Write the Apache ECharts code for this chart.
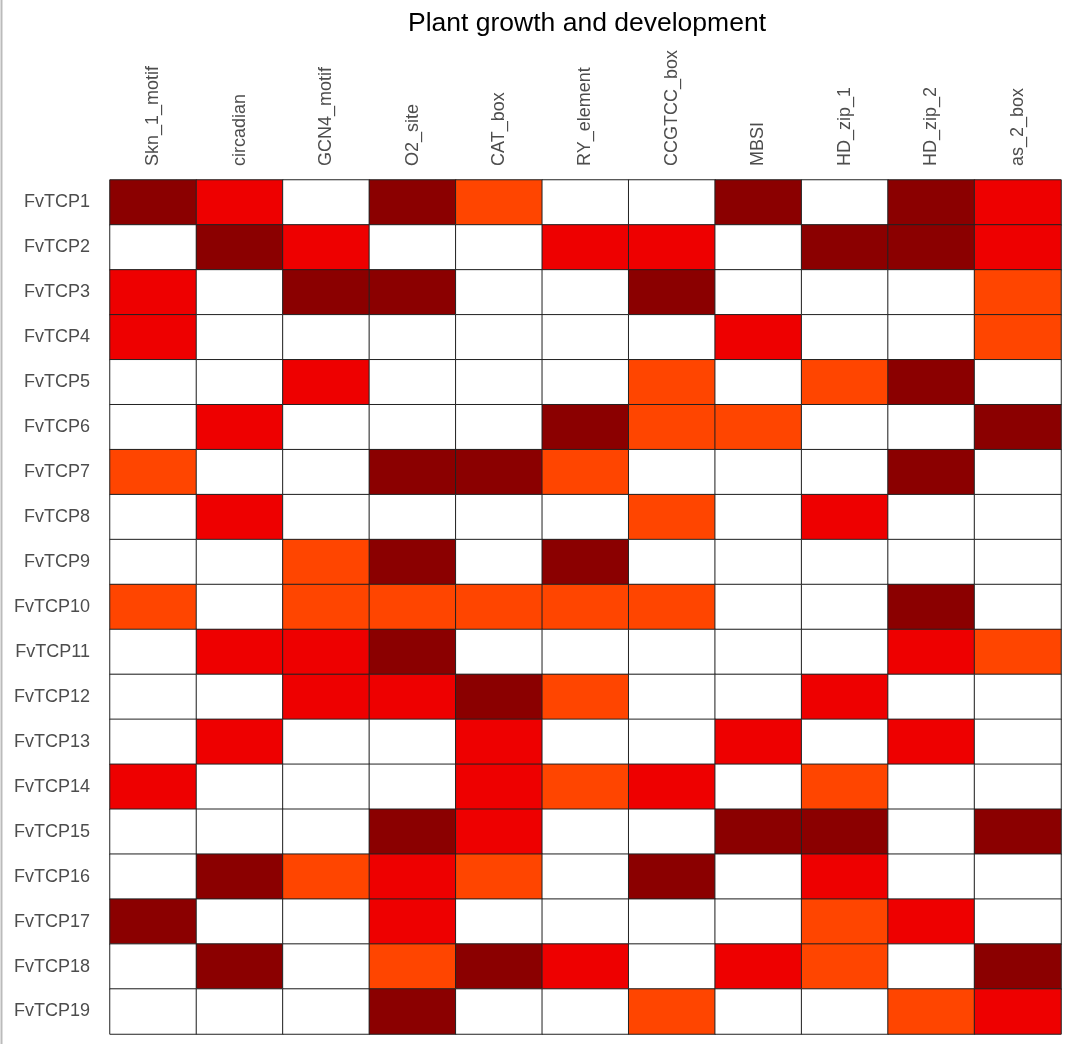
<!DOCTYPE html>
<html><head><meta charset="utf-8">
<script src="https://cdn.jsdelivr.net/npm/echarts@6/dist/echarts.min.js"></script>
<style>html,body{margin:0;padding:0;background:#fff}#c{width:1080px;height:1044px}</style>
</head><body><div id="c"></div>
<script>
const columns = ['Skn_1_motif','circadian','GCN4_motif','O2_site','CAT_box','RY_element','CCGTCC_box','MBSI','HD_zip_1','HD_zip_2','as_2_box'];
const genes = ['FvTCP1','FvTCP2','FvTCP3','FvTCP4','FvTCP5','FvTCP6','FvTCP7','FvTCP8','FvTCP9','FvTCP10','FvTCP11','FvTCP12','FvTCP13','FvTCP14','FvTCP15','FvTCP16','FvTCP17','FvTCP18','FvTCP19'];
const levels = [
  [3,2,0,3,1,0,0,3,0,3,2],
  [0,3,2,0,0,2,2,0,3,3,2],
  [2,0,3,3,0,0,3,0,0,0,1],
  [2,0,0,0,0,0,0,2,0,0,1],
  [0,0,2,0,0,0,1,0,1,3,0],
  [0,2,0,0,0,3,1,1,0,0,3],
  [1,0,0,3,3,1,0,0,0,3,0],
  [0,2,0,0,0,0,1,0,2,0,0],
  [0,0,1,3,0,3,0,0,0,0,0],
  [1,0,1,1,1,1,1,0,0,3,0],
  [0,2,2,3,0,0,0,0,0,2,1],
  [0,0,2,2,3,1,0,0,2,0,0],
  [0,2,0,0,2,0,0,2,0,2,0],
  [2,0,0,0,2,1,2,0,1,0,0],
  [0,0,0,3,2,0,0,3,3,0,3],
  [0,3,1,2,1,0,3,0,2,0,0],
  [3,0,0,2,0,0,0,0,1,2,0],
  [0,3,0,1,3,2,0,2,1,0,3],
  [0,0,0,3,0,0,1,0,0,1,2]
];
const levelColors = ['#FFFFFF','#FF4500','#EE0000','#8B0000'];

const data = [];
levels.forEach((row, r) => row.forEach((v, c) => data.push([c, r, v])));

const chart = echarts.init(document.getElementById('c'));
chart.setOption({
  animation: false,
  backgroundColor: '#fff',
  title: {
    text: 'Plant growth and development',
    left: 582, top: 5, textAlign: 'center',
    textStyle: {fontFamily: 'Liberation Sans, Arial', fontSize: 26.5, fontWeight: 'normal', color: '#000'}
  },
  grid: {left: 110, top: 180, width: 951, height: 854},
  xAxis: {
    type: 'category', data: columns, position: 'top',
    axisLine: {show: false}, axisTick: {show: false}, splitLine: {show: false},
    axisLabel: {rotate: -90, margin: 14, fontSize: 18, color: '#4d4d4d', fontFamily: 'Liberation Sans, Arial'}
  },
  yAxis: {
    type: 'category', data: genes, inverse: true,
    axisLine: {show: false}, axisTick: {show: false}, splitLine: {show: false},
    axisLabel: {margin: 20, fontSize: 18, color: '#4d4d4d', fontFamily: 'Liberation Sans, Arial'}
  },
  visualMap: {
    show: false, type: 'piecewise', dimension: 2,
    pieces: levelColors.map((col, i) => ({value: i, color: col}))
  },
  series: [{
    type: 'heatmap', data: data,
    itemStyle: {borderColor: '#222', borderWidth: 1},
    emphasis: {disabled: true}
  }],
  graphic: [{
    type: 'line', shape: {x1: 1.5, y1: 0, x2: 1.5, y2: 1044},
    style: {stroke: '#bbb', lineWidth: 2}
  }]
});
</script></body></html>
